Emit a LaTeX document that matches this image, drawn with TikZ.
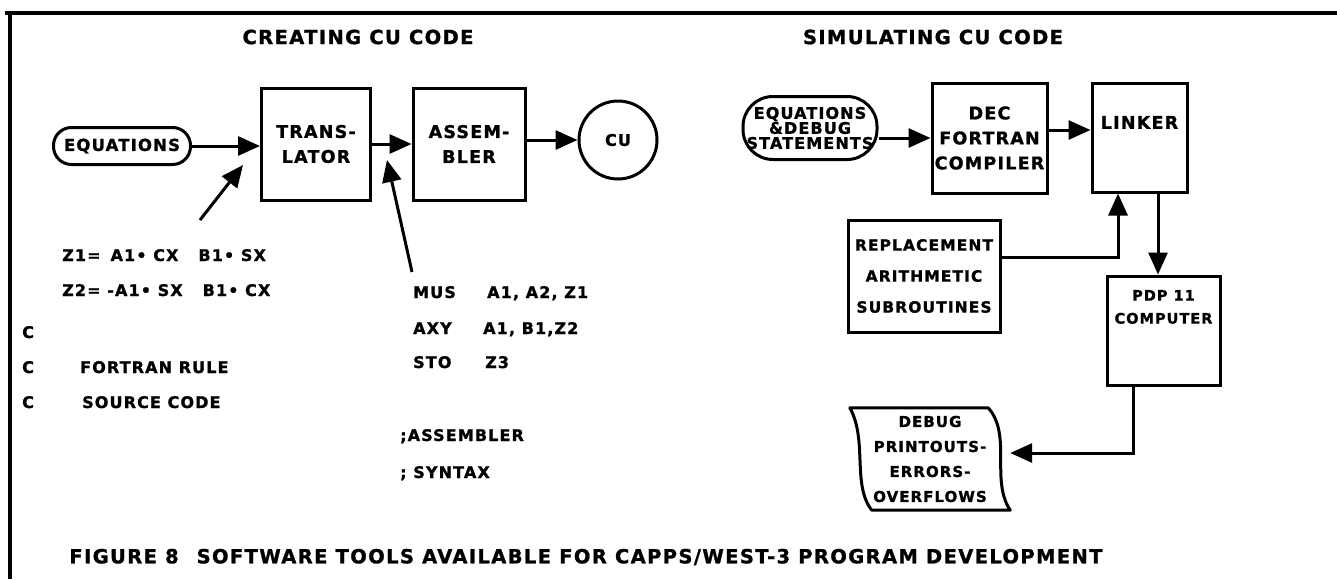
\documentclass[tikz,border=0pt]{standalone}
\usepackage{fontspec}
\setmainfont{DejaVu Sans}[BoldFeatures={FakeBold=1.2,LetterSpace=7}]
\usetikzlibrary{arrows.meta}
\usetikzlibrary{positioning}
\tikzset{
    box/.style={
        rectangle,
        draw=black,
        line width=3pt,
        align=center,
        font=\fontsize{17.5}{25}\selectfont\bfseries
    },
    arrow/.style={
        -{Triangle[length=22pt,width=19pt]},
        line width=3pt,
        draw=black
    }
}

\begin{document}
\begin{tikzpicture}[
x=1pt, y=-1pt,
node distance=0.1cm,
title/.style={font=\fontsize{19.5}{24}\selectfont\bfseries},
code/.style={anchor=base west, inner sep=0pt, font=\fontsize{16}{20}\selectfont\bfseries},
lbl/.style={align=center, font=\fontsize{17.5}{23}\selectfont\bfseries},
pill/.style={rectangle, draw=black, line width=3pt, align=center}
]
\useasboundingbox (0,0) rectangle (1337,579);
% frame
\draw[line width=3.5pt] (5,13) -- (1337,13);
\draw[line width=3.5pt] (10,11) -- (10,579);

\node[title] (ttlcreate) at (358,37) {CREATING CU CODE};
\node[title] (ttlsim) at (933,37) {SIMULATING CU CODE};

% creating cu code
\node[pill, rounded corners=18pt, minimum width=137pt, minimum height=37pt, inner sep=0pt,
      font=\fontsize{16.5}{20}\selectfont\bfseries] (eqns) at (122,146) {EQUATIONS};
\node[box, minimum width=109pt, minimum height=112pt] (trans) at (316,144) {TRANS-\\LATOR};
\node[box, minimum width=112pt, minimum height=112pt] (assem) at (469,144) {ASSEM-\\BLER};
\node[circle, draw=black, line width=3pt, minimum size=78pt,
      font=\fontsize{16}{20}\selectfont\bfseries] (cu) at (618,140) {CU};

\draw[arrow] (eqns.east) -- (eqns.east -| trans.west);
\draw[arrow] (trans.east) -- (assem.west);
\draw[arrow] (assem.east |- cu.west) -- (cu.west);

\coordinate (eqtail) at (200,220);
\coordinate (eqtip) at (243,165);
\coordinate (asmtail) at (412,272);
\coordinate (asmtip) at (387,160);
\draw[arrow] (eqtail) -- (eqtip);
\draw[arrow] (asmtail) -- (asmtip);

\node[code] (zone) at (62,261) {Z1=\hspace{10pt}A1• CX\hspace{20pt}B1• SX};
\node[code] (ztwo) at (62,296) {Z2= -A1• SX\hspace{20pt}B1• CX};
\node[code] (cmark1) at (22,338) {C};
\node[code] (cmark2) at (22,373) {C};
\node[code] (cmark3) at (22,408) {C};
\node[code] (frule) at (80,373) {FORTRAN RULE};
\node[code] (fsrc) at (82,408) {SOURCE CODE};

\node[code] (mus) at (413,298) {MUS};
\node[code] (musargs) at (487,298) {A1, A2, Z1};
\node[code] (axy) at (413,334) {AXY};
\node[code] (axyargs) at (483,334) {A1, B1,Z2};
\node[code] (sto) at (413,368) {STO};
\node[code] (stoargs) at (485,368) {Z3};
\node[code] (asmnote) at (400,441) {;ASSEMBLER};
\node[code] (synnote) at (400,478) {; SYNTAX};

% simulating cu code
\node[pill, rounded corners=30pt, minimum width=134pt, minimum height=63pt, inner sep=0pt,
      font=\fontsize{16}{15}\selectfont\bfseries] (eqdbg) at (810,128) {EQUATIONS\\\&DEBUG\\STATEMENTS};
\node[box, minimum width=115pt, minimum height=110pt, inner sep=0pt] (dec) at (989.5,138) {DEC\\FORTRAN\\COMPILER};
\node[box, minimum width=95pt, minimum height=109pt] (linker) at (1139.5,137.5) {};
\node[lbl, below=31pt of linker.north] (linkerlbl) {LINKER};
\node[box, minimum width=152pt, minimum height=112pt, inner sep=0pt,
      font=\fontsize{15.5}{31}\selectfont\bfseries] (repl) at (924,276) {REPLACEMENT\\ARITHMETIC\\SUBROUTINES};
\node[box, minimum width=113pt, minimum height=109pt] (pdp) at (1163.5,330.5) {};
\node[lbl, below=12pt of pdp.north, font=\fontsize{14.5}{23}\selectfont\bfseries] (pdplbl) {PDP 11\\COMPUTER};
\node[minimum width=160pt, minimum height=102pt, align=center, inner sep=0pt,
      font=\fontsize{15}{25}\selectfont\bfseries] (dbg) at (930,459) {DEBUG\\PRINTOUTS-\\ERRORS-\\OVERFLOWS};
\draw[line width=3pt, line join=round]
    (dbg.north west) -- ([xshift=-22pt]dbg.north east)
    .. controls +(24,27) and +(-20,-30) .. (dbg.south east)
    -- ([xshift=22pt]dbg.south west)
    .. controls +(-20,-25) and +(18,32) .. cycle;

\draw[arrow] (eqdbg.east |- dec.west) -- (dec.west);
\draw[arrow] ([yshift=8pt]dec.east) -- ([yshift=8pt]dec.east -| linker.west);
\draw[arrow] ([yshift=19pt]repl.east) -| ([xshift=-21.5pt]linker.south);
\draw[arrow] ([xshift=18.5pt]linker.south) -- ([xshift=18.5pt]linker.south |- pdp.north);
\draw[arrow] ([xshift=-30.5pt]pdp.south) |- ([yshift=6pt]dbg.east);

\node[title] (caption) at (586,557) {FIGURE 8\enspace\ SOFTWARE TOOLS AVAILABLE FOR CAPPS/WEST-3 PROGRAM DEVELOPMENT};
\end{tikzpicture}
\end{document}
